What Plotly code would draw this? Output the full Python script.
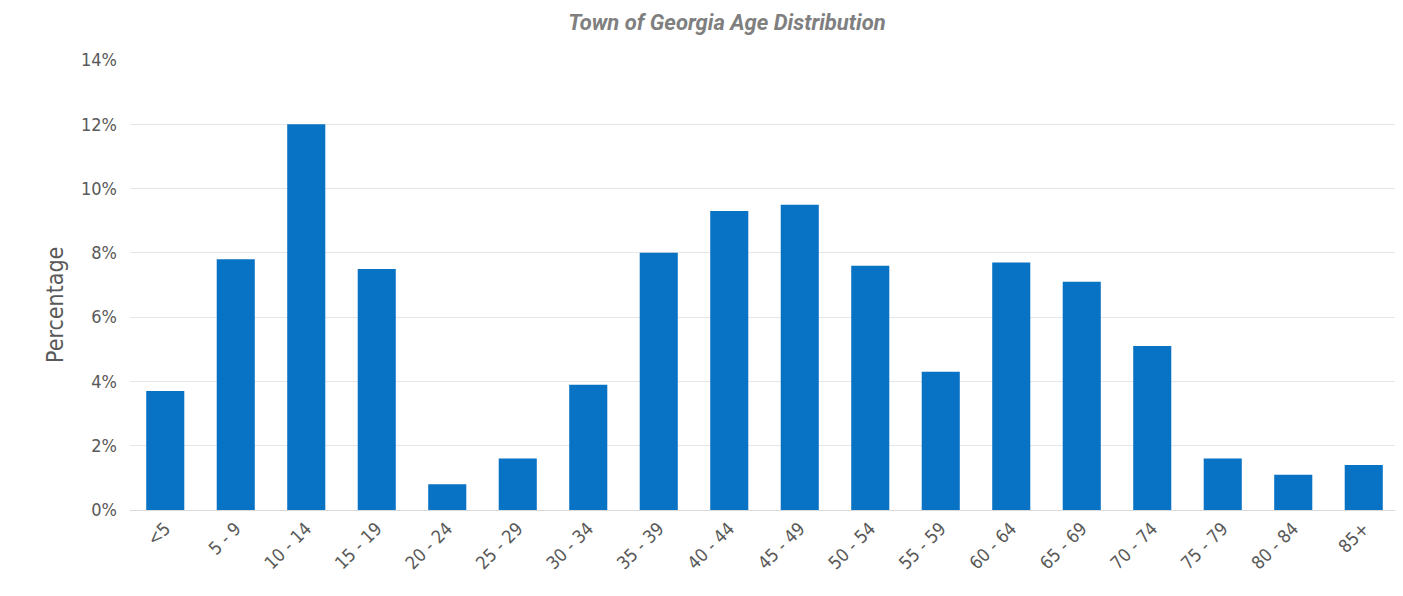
import plotly.graph_objects as go

categories = ["<5", "5 - 9", "10 - 14", "15 - 19", "20 - 24", "25 - 29", "30 - 34", "35 - 39",
              "40 - 44", "45 - 49", "50 - 54", "55 - 59", "60 - 64", "65 - 69", "70 - 74",
              "75 - 79", "80 - 84", "85+"]
percentages = [3.7, 7.8, 12.0, 7.5, 0.8, 1.6, 3.9, 8.0, 9.3, 9.5, 7.6, 4.3, 7.7, 7.1, 5.1, 1.6, 1.1, 1.4]
y_ticks = [0, 2, 4, 6, 8, 10, 12, 14]
y_tick_labels = [f"{v}%" for v in y_ticks]

narrow = "DejaVu Sans Condensed, Liberation Sans Narrow, Roboto, sans-serif"

fig = go.Figure(go.Bar(
    x=categories, y=percentages, marker_color="#0872C4", marker_line_width=0,
))

fig.update_layout(
    width=1395, height=588,
    margin=dict(l=122, r=4, t=52, b=86),
    paper_bgcolor="white", plot_bgcolor="white",
    bargap=0.46,
    showlegend=False,
    title=dict(text="<b><i>Town of Georgia Age Distribution</i></b>", x=0.5154, xanchor="center",
               y=0.976, yanchor="middle",
               font=dict(family="Roboto, sans-serif", size=22, color="#7f7f7f")),
    font=dict(family=narrow, color="#595959"),
    annotations=[dict(text="Percentage", xref="paper", yref="paper", x=-0.0591, y=0.4556,
                      xanchor="center", yanchor="middle", textangle=-90, showarrow=False,
                      font=dict(size=23, color="#595959", family=narrow))],
)
fig.update_xaxes(tickangle=-45, tickfont=dict(size=18, color="#595959"), showgrid=False,
                 showline=True, linecolor="#d9d9d9", linewidth=1, ticks="", automargin=False)
fig.update_yaxes(range=[0, 14], tickvals=y_ticks, ticktext=y_tick_labels, automargin=False,
                 tickfont=dict(size=18, color="#595959"), showgrid=True, gridcolor="#e6e6e6",
                 gridwidth=1, zeroline=False, ticks="", ticklabelstandoff=12)

fig.write_html("out.html")
